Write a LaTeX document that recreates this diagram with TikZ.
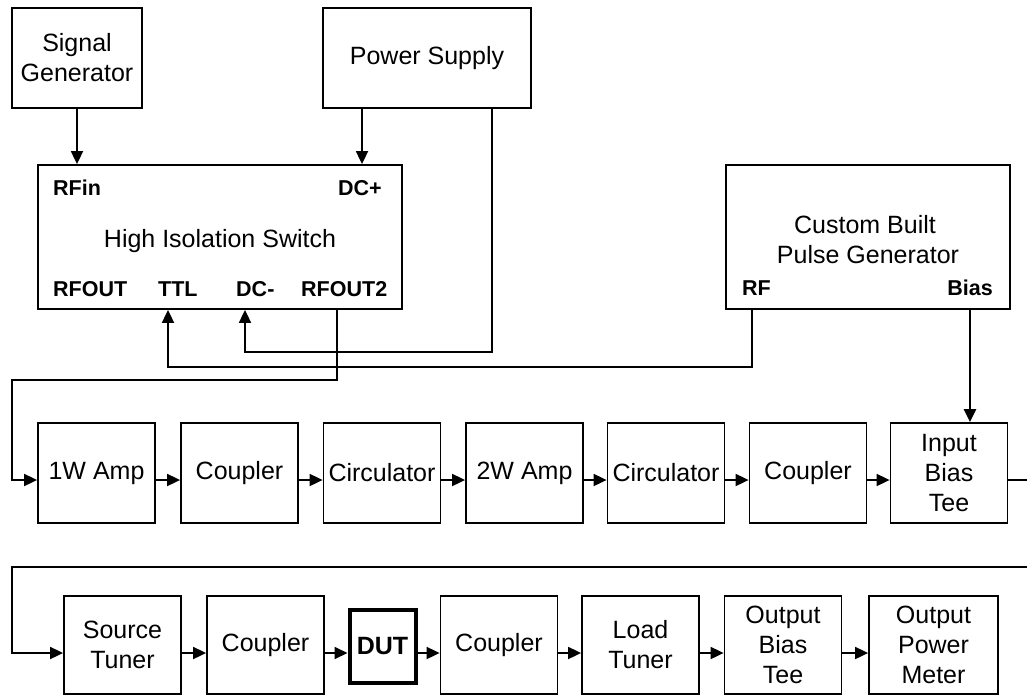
\documentclass[tikz,border=0pt]{standalone}
\usepackage{fontspec}
\setmainfont{Liberation Sans}
\usetikzlibrary{arrows.meta}
\begin{document}
\begin{tikzpicture}[x=1pt,y=-1pt,
  box/.style={draw, line width=1.8pt, inner sep=0pt, align=center,
    font=\fontsize{25}{30}\selectfont},
  rbox/.style={box, minimum width=117pt, minimum height=100pt},
  sbox/.style={box, minimum width=117pt, minimum height=98pt},
  lbl/.style={inner sep=0pt, font=\fontsize{21.5}{26}\selectfont\bfseries},
  arr/.style={line width=1.8pt, -{Triangle[length=13pt,width=12pt]}},
  wire/.style={line width=1.8pt}]
\useasboundingbox (0,0) rectangle (1027,696);
% top boxes
\node[box, minimum width=130pt, minimum height=100pt] (sg) at (77,58) {Signal\\Generator};
\node[box, minimum width=208pt, minimum height=100pt] (ps) at (427,58) {Power Supply};
\node[box, minimum width=364pt, minimum height=144pt] (sw) at (220,237) {};
\node[box, minimum width=284pt, minimum height=144pt] (pg) at (868,237) {};
% switch labels
\node[lbl, anchor=base west] (rfin) at (53,195) {RFin};
\node[lbl, anchor=base east] (dcp) at (382,195) {DC+};
\node[inner sep=0pt, font=\fontsize{25}{30}\selectfont, anchor=base] (swt) at (220,247) {High Isolation Switch};
\node[lbl, anchor=base west] (rfout) at (53,296) {RFOUT};
\node[lbl, anchor=base west] (ttl) at (158,296) {TTL};
\node[lbl, anchor=base west] (dcm) at (236,296) {DC-};
\node[lbl, anchor=base west] (rfout2) at (301,296) {RFOUT2};
% pulse generator labels
\node[inner sep=0pt, font=\fontsize{25}{30}\selectfont, anchor=base] (pgt1) at (865,233) {Custom Built};
\node[inner sep=0pt, font=\fontsize{25}{30}\selectfont, anchor=base] (pgt2) at (868,263) {Pulse Generator};
\node[lbl, anchor=base west] (pgrf) at (742,295) {RF};
\node[lbl, anchor=base east] (pgbias) at (993,295) {Bias};
% row 1
\node[rbox] (a1) at (96.5,473) {1W Amp};
\node[rbox] (a2) at (239.5,473) {Coupler};
\node[rbox] (a3) at (382,473) {Circulator};
\node[rbox] (a4) at (524.5,473) {2W Amp};
\node[rbox] (a5) at (666,473) {Circulator};
\node[rbox] (a6) at (808,473) {Coupler};
\node[rbox] (a7) at (949,473) {Input\\Bias\\Tee};
% row 2
\node[sbox] (b1) at (122.5,645) {Source\\Tuner};
\node[sbox] (b2) at (265.5,645) {Coupler};
\node[box, line width=4pt, minimum width=66pt, minimum height=73pt, font=\fontsize{25}{30}\selectfont\bfseries] (dut) at (382.5,646) {DUT};
\node[sbox] (b4) at (499,645) {Coupler};
\node[sbox] (b5) at (640.5,645) {Load\\Tuner};
\node[sbox] (b6) at (783,645) {Output\\Bias\\Tee};
\node[sbox, minimum width=129pt] (b7) at (933.5,645) {Output\\Power\\Meter};
% coordinates for loose ends
\coordinate (r1end) at (1027,480);
\coordinate (r2start) at (1027,567);
\coordinate (r2bend) at (12,567);
\coordinate (r1bend) at (12,380);
% top connectors
\draw[arr] (sg.south) -- (sg.south |- sw.north);
\draw[arr] ([xshift=-65pt]ps.south) -- ([xshift=-65pt]ps.south |- sw.north);
\draw[arr] ([xshift=65pt]ps.south) -- ++(0,243) -| ([xshift=25pt]sw.south);
\draw[arr] ([xshift=-116pt]pg.south) -- ++(0,57) -| ([xshift=-52pt]sw.south);
\draw[arr] ([xshift=117pt]sw.south) |- (r1bend) |- ([yshift=-7pt]a1.west);
\draw[arr, line width=2.5pt] ([xshift=102pt]pg.south) -- ([xshift=102pt]pg.south |- a7.north);
% row 1 connectors
\foreach \p/\q in {a1/a2,a2/a3,a3/a4,a4/a5,a5/a6,a6/a7}
  \draw[arr] ([yshift=-7pt]\p.east) -- ([yshift=-7pt]\q.west);
\draw[wire] ([yshift=-7pt]a7.east) -- (r1end);
% row 2 connectors
\draw[arr] (r2start) -- (r2bend) |- ([yshift=-8pt]b1.west);
\foreach \p/\q in {b1/b2,b2/dut,dut/b4,b4/b5,b5/b6,b6/b7}
  \draw[arr] (\p.east |- 0,653) -- (\q.west |- 0,653);
\end{tikzpicture}
\end{document}
